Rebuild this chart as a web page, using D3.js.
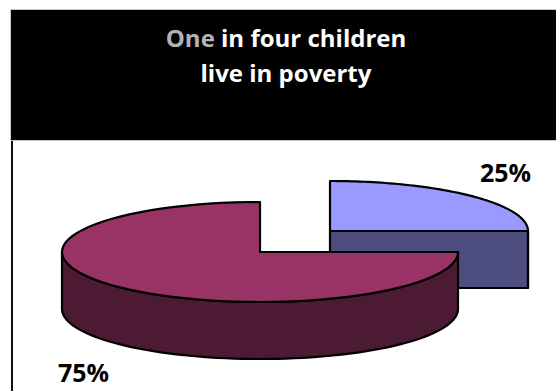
<!DOCTYPE html>
<html>
<head>
<meta charset="utf-8">
<script src="https://cdn.jsdelivr.net/npm/d3@7"></script>
<style>
  html, body { margin: 0; padding: 0; background: #fff; }
  svg { display: block; }
</style>
</head>
<body>
<svg id="chart" width="556" height="391"></svg>
<script>
// Share of children by poverty status
const categories = ["In poverty", "Not in poverty"];
const values = [25, 75];
const topColors = ["#9999FF", "#993366"];
const sideColors = ["#4D4D80", "#4D1A33"];
const titleLines = [
  [{ text: "One", muted: true }, { text: " in four children", muted: false }],
  [{ text: "live in poverty", muted: false }]
];

const W = 556, H = 391;
const svg = d3.select("#chart");

// Title banner
svg.append("rect")
  .attr("x", 10.5).attr("y", 9.5)
  .attr("width", W).attr("height", 131)
  .attr("fill", "#000").attr("stroke", "#c8c8c8").attr("stroke-width", 1);

// Chart panel
svg.append("line")
  .attr("x1", 12).attr("x2", 12).attr("y1", 141).attr("y2", H)
  .attr("stroke", "#111").attr("stroke-width", 2);

const title = svg.append("text")
  .attr("text-anchor", "middle")
  .attr("font-family", "'Open Sans', sans-serif")
  .attr("font-weight", 700)
  .attr("font-size", 24);
titleLines.forEach((parts, i) => {
  const t = title.append("tspan").attr("x", 286).attr("y", 47 + i * 35);
  parts.forEach(p => {
    t.append("tspan").text(p.text).attr("fill", p.muted ? "#b3b3b3" : "#ffffff");
  });
});

// 3D pie geometry
const rx = 198, ry = 50, depth = 57;
const center = { x: 260, y: 252 };
const explode = [{ dx: 70, dy: -21 }, { dx: 0, dy: 0 }];

const pie = d3.pie().sort(null).value(d => d)(values);
const total = d3.sum(values);
const pct = d3.format(".0%");

const proj = (a, cx, cy) => [cx + rx * Math.sin(a), cy - ry * Math.cos(a)];
const arcPts = (a0, a1, cx, cy, n = 72) =>
  d3.range(n + 1).map(i => proj(a0 + (a1 - a0) * i / n, cx, cy));
const line = d3.line();

const g = svg.append("g")
  .attr("stroke", "#000").attr("stroke-width", 2.2)
  .attr("stroke-linejoin", "round");

pie.forEach((s, i) => {
  const cx = center.x + explode[i].dx, cy = center.y + explode[i].dy;
  const a0 = s.startAngle, a1 = s.endAngle;

  // Cut face along the 3 o'clock radius, facing the viewer
  if (a0 < Math.PI / 2 && Math.abs(a1 - Math.PI / 2) < 1e-9) {
    const e = proj(a1, cx, cy);
    g.append("path")
      .attr("d", line([[cx, cy], e, [e[0], e[1] + depth], [cx, cy + depth]]) + "Z")
      .attr("fill", sideColors[i]);
  }

  // Curved outer wall, front half only
  const v0 = Math.max(a0, Math.PI / 2), v1 = Math.min(a1, 3 * Math.PI / 2);
  if (v1 > v0) {
    const topEdge = arcPts(v0, v1, cx, cy);
    const bottomEdge = arcPts(v0, v1, cx, cy + depth).reverse();
    g.append("path")
      .attr("d", line(topEdge.concat(bottomEdge)) + "Z")
      .attr("fill", sideColors[i]);
  }

  // Top face
  const rim = arcPts(a0, a1, cx, cy);
  g.append("path")
    .attr("d", line([[cx, cy]].concat(rim)) + "Z")
    .attr("fill", topColors[i]);
});

// Percentage labels
const labelPos = [{ x: 480, y: 182 }, { x: 58, y: 382 }];
svg.append("g")
  .attr("font-family", "'Open Sans', sans-serif")
  .attr("font-weight", 700)
  .attr("font-size", 25)
  .attr("fill", "#000")
  .selectAll("text")
  .data(pie)
  .join("text")
  .attr("x", (d, i) => labelPos[i].x)
  .attr("y", (d, i) => labelPos[i].y)
  .text(d => pct(d.value / total));
</script>
</body>
</html>
